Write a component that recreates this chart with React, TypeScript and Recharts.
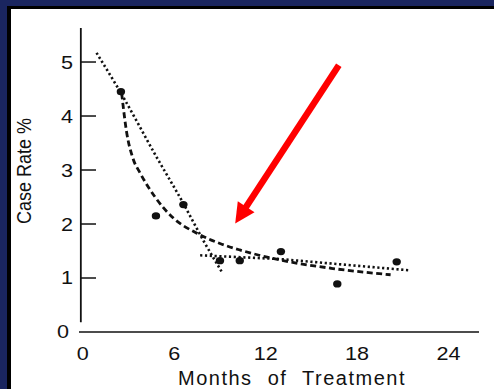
import {
  ComposedChart,
  Line,
  Scatter,
  XAxis,
  YAxis,
  ReferenceLine,
  Label,
} from 'recharts';

const FONT = '"Liberation Sans", Arial, sans-serif';

// observed case rates
const monthsObs = [2.5, 4.8, 6.6, 9.0, 10.3, 13.0, 16.7, 20.6];
const rateObs = [4.45, 2.15, 2.36, 1.32, 1.32, 1.49, 0.89, 1.3];

// steep dotted fit
const steepX = [0.9, 2.45, 4.8, 6.6, 7.9, 9.15];
const steepY = [5.17, 4.45, 3.26, 2.38, 1.7, 1.1];

// flat dotted fit
const flatX = [7.7, 13.0, 21.5];
const flatY = [1.42, 1.35, 1.14];

// dashed curve
const dashX = [2.55, 2.87, 3.31, 3.75, 4.74, 5.94, 7.48, 9.0, 10.3, 13.0, 16.3, 20.2];
const dashY = [4.42, 3.71, 3.2, 2.95, 2.5, 2.11, 1.83, 1.64, 1.52, 1.33, 1.18, 1.06];

const xTicks = [0, 6, 12, 18, 24];
const yTicks = [0, 1, 2, 3, 4, 5];

// arrow annotation (data coords)
const arrowFrom = { x: 16.8, y: 4.94 };
const arrowTo = { x: 10.0, y: 2.01 };

const zip = (xs: number[], ys: number[]) => xs.map((x, i) => ({ x, y: ys[i] }));

const obsData = zip(monthsObs, rateObs);
const steepData = zip(steepX, steepY);
const flatData = zip(flatX, flatY);
const dashData = zip(dashX, dashY);

function YTick(props: any) {
  const { x, y, payload } = props;
  return (
    <g>
      <text
        transform={`translate(${payload.value === 0 ? x - 4 : x},${y}) scale(1.2,1)`}
        dy="0.36em"
        textAnchor="end"
        fill="#111"
        fontSize={18}
        fontFamily={FONT}
      >
        {payload.value}
      </text>
      {payload.value !== 0 && (
        <line x1={x + 8} x2={x + 23} y1={y} y2={y} stroke="#111" strokeWidth={1.5} />
      )}
    </g>
  );
}

function XTick(props: any) {
  const { x, y, payload } = props;
  return (
    <text
      transform={`translate(${x},${y}) scale(1.2,1)`}
      dy="0.72em"
      textAnchor="middle"
      fill="#111"
      fontSize={18}
      fontFamily={FONT}
    >
      {payload.value}
    </text>
  );
}

function Arrow(props: any) {
  const { x1, y1, x2, y2 } = props;
  const dx = x2 - x1;
  const dy = y2 - y1;
  const len = Math.sqrt(dx * dx + dy * dy);
  const ux = dx / len;
  const uy = dy / len;
  const px = -uy;
  const py = ux;
  const headLen = 20;
  const headHalf = 10;
  const bx = x2 - ux * headLen;
  const by = y2 - uy * headLen;
  return (
    <g>
      <line
        x1={x1}
        y1={y1}
        x2={bx + ux * 2}
        y2={by + uy * 2}
        stroke="#ff0000"
        strokeWidth={6.5}
      />
      <polygon
        points={`${x2},${y2} ${bx + px * headHalf},${by + py * headHalf} ${bx - px * headHalf},${by - py * headHalf}`}
        fill="#ff0000"
      />
    </g>
  );
}

export default function App() {
  return (
    <div
      style={{
        position: 'absolute',
        left: 0,
        top: 0,
        width: 494,
        height: 389,
        background: '#1a255f',
        overflow: 'hidden',
      }}
    >
      <div style={{ position: 'absolute', left: 7, top: 6, right: 0, bottom: 0, background: '#000' }} />
      <div style={{ position: 'absolute', left: 11, top: 9, right: 0, bottom: 0, background: '#fff' }} />
      <div style={{ position: 'absolute', left: 0, top: 0 }}>
        <ComposedChart
          width={494}
          height={389}
          margin={{ top: 28, right: 15, bottom: 0, left: 19 }}
        >
          <XAxis
            dataKey="x"
            type="number"
            domain={[-0.25, 26]}
            ticks={xTicks}
            allowDataOverflow
            height={57}
            tickLine={false}
            tickSize={0}
            tickMargin={15}
            axisLine={{ stroke: '#111', strokeWidth: 1.5 }}
            tick={<XTick />}
          >
            <Label
              content={(p: any) => {
                const vb = p.viewBox;
                return (
                  <text
                    x={vb.x + vb.width / 2 + 13}
                    y={vb.y + vb.height - 4}
                    textAnchor="middle"
                    fontSize={20}
                    letterSpacing={1.5}
                    wordSpacing={8}
                    fill="#111"
                    fontFamily={FONT}
                  >
                    Months of Treatment
                  </text>
                );
              }}
            />
          </XAxis>
          <YAxis
            type="number"
            domain={[0, 5.63]}
            ticks={yTicks}
            allowDataOverflow
            width={60}
            axisLine={false}
            tickLine={false}
            tickSize={0}
            tickMargin={6}
            tick={<YTick />}
          >
            <Label
              content={(p: any) => {
                const vb = p.viewBox;
                const cx = vb.x + 12;
                const cy = vb.y + vb.height / 2 - 9;
                return (
                  <text
                    transform={`translate(${cx},${cy}) rotate(-90) scale(1,1.15)`}
                    textAnchor="middle"
                    fontSize={18}
                    fill="#111"
                    fontFamily={FONT}
                  >
                    Case Rate %
                  </text>
                );
              }}
            />
          </YAxis>
          <ReferenceLine
            segment={[
              { x: -0.13, y: 0.18 },
              { x: -0.13, y: 5.63 },
            ]}
            stroke="#111"
            strokeWidth={1.8}
            ifOverflow="visible"
          />
          <Line
            data={steepData}
            dataKey="y"
            type="monotone"
            stroke="#111"
            strokeWidth={2.6}
            strokeDasharray="2.2 2.6"
            dot={false}
            isAnimationActive={false}
          />
          <Line
            data={flatData}
            dataKey="y"
            type="linear"
            stroke="#111"
            strokeWidth={2.6}
            strokeDasharray="2.2 2.6"
            dot={false}
            isAnimationActive={false}
          />
          <Line
            data={dashData}
            dataKey="y"
            type="monotone"
            stroke="#111"
            strokeWidth={2.8}
            strokeDasharray="6 3.5"
            dot={false}
            isAnimationActive={false}
          />
          <Scatter
            data={obsData}
            dataKey="y"
            fill="#111"
            isAnimationActive={false}
            shape={(p: any) => <ellipse cx={p.cx} cy={p.cy} rx={4.2} ry={3.6} fill="#111" />}
          />
          <ReferenceLine
            segment={[arrowFrom, arrowTo]}
            ifOverflow="visible"
            shape={(p: any) => <Arrow {...p} />}
          />
        </ComposedChart>
      </div>
    </div>
  );
}
